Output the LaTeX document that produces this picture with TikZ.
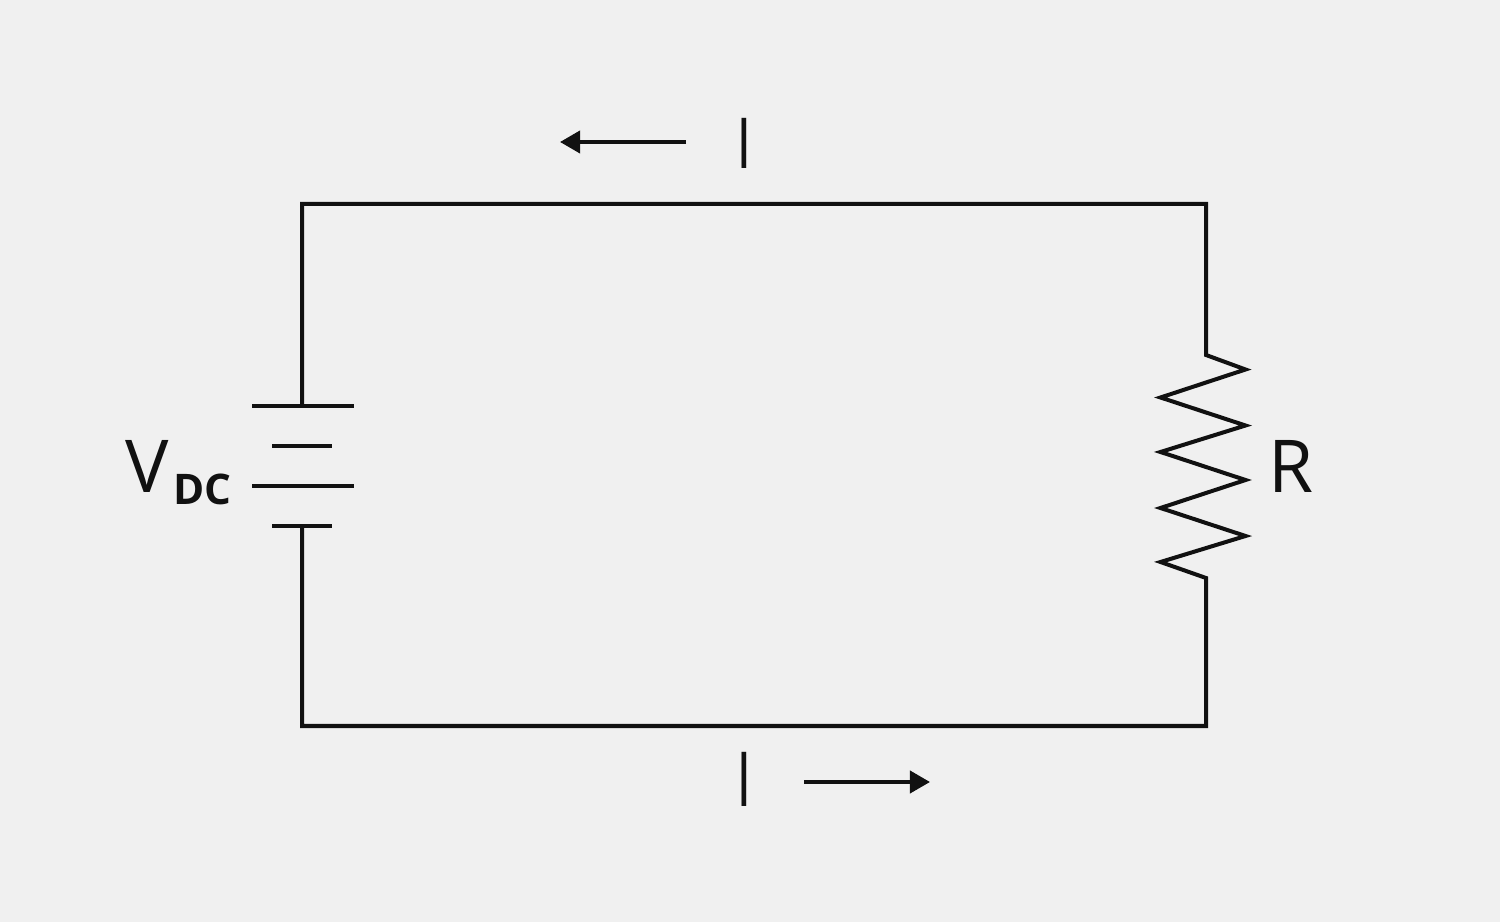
\documentclass[tikz,border=0pt]{standalone}
\usepackage{fontspec}
\setmainfont{Open Sans}
\usetikzlibrary{arrows.meta}
\definecolor{ink}{HTML}{111111}
\definecolor{paper}{HTML}{F0F0F0}
\tikzset{
  wire/.style={draw=ink, line width=2.28pt},
  flow/.style={wire, -{Triangle[length=11.4pt, width=12.5pt]}},
  symbol/.style={text=ink, inner sep=0pt, anchor=base west, font=\fontsize{41.5}{41.5}\selectfont},
  current/.style={text=ink, inner sep=0pt, font=\fontsize{40}{40}\selectfont, xscale=.8}
}
\begin{document}
\begin{tikzpicture}
\fill[paper] (0, 0) rectangle (30, 18.44);
\useasboundingbox (0, 0) rectangle (30, 18.44);
\coordinate (tl) at (6.04, 14.36);
\coordinate (tr) at (24.12, 14.36);
\coordinate (bl) at (6.04, 3.92);
\coordinate (br) at (24.12, 3.92);
\coordinate (battop) at (6.04, 10.32);
\coordinate (batbot) at (6.04, 7.92);
\coordinate (restop) at (24.12, 11.34);
\coordinate (resbot) at (24.12, 6.88);
% loop
\draw[wire] (battop) -- (tl) -- (tr) -- (restop)
  -- (24.91, 11.05) -- (23.21, 10.49) -- (24.91, 9.93) -- (23.21, 9.40)
  -- (24.91, 8.84) -- (23.21, 8.28) -- (24.91, 7.72) -- (23.21, 7.20)
  -- (resbot) -- (br) -- (bl) -- (batbot);
% battery
\draw[wire] (5.04, 10.32) -- (7.08, 10.32);
\draw[wire] (5.44, 9.52) -- (6.64, 9.52);
\draw[wire] (5.04, 8.72) -- (7.08, 8.72);
\draw[wire] (5.44, 7.92) -- (6.64, 7.92);
% labels
\node[symbol] (vdc) at (2.50, 8.58) {V\hspace{2.5pt}\raisebox{-6.3pt}{\fontsize{24}{24}\selectfont\bfseries DC}};
\node[symbol] (res) at (25.36, 8.58) {R};
\node[current] (itop) at (14.88, 15.58) {I};
\node[current, yscale=1.08] (ibot) at (14.88, 2.86) {I};
% current direction
\coordinate (atopa) at (13.72, 15.60);
\coordinate (atopb) at (11.20, 15.60);
\coordinate (abota) at (16.08, 2.80);
\coordinate (abotb) at (18.60, 2.80);
\draw[flow] (atopa) -- (atopb);
\draw[flow] (abota) -- (abotb);
\end{tikzpicture}
\end{document}
